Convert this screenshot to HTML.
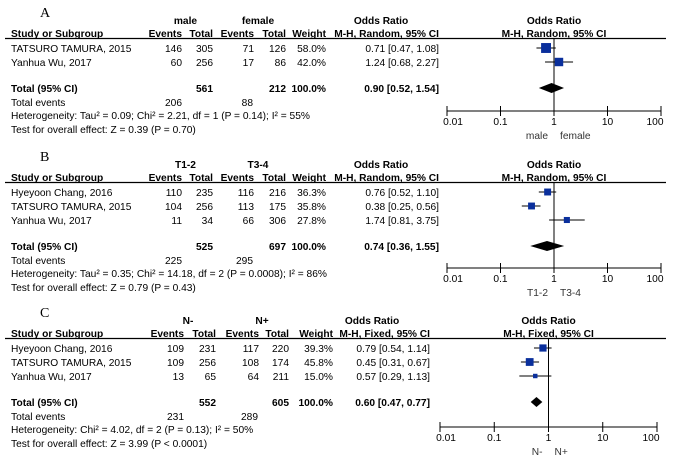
<!DOCTYPE html>
<html><head><meta charset="utf-8">
<style>
html,body{margin:0;padding:0;background:#fff;}
svg{display:block;font-family:"Liberation Sans",Arial,sans-serif;font-size:10.2px;}
.b{font-weight:bold;}
.ser{font-family:"Liberation Serif",serif;font-size:14px;}
</style></head>
<body>
<svg id="chart" width="679" height="455" viewBox="0 0 679 455"></svg>
<script>
// Panel A data
const studiesA = ["TATSURO TAMURA, 2015","Yanhua Wu, 2017"];
const ev1A = [146,60], tot1A = [305,256], ev2A = [71,17], tot2A = [126,86];
const weightA = [58.0,42.0];
const orA = [0.71,1.24], loA = [0.47,0.68], hiA = [1.08,2.27];
const totalA = [0.90,0.52,1.54];
// Panel B data
const studiesB = ["Hyeyoon Chang, 2016","TATSURO TAMURA, 2015","Yanhua Wu, 2017"];
const ev1B = [110,104,11], tot1B = [235,256,34], ev2B = [116,113,66], tot2B = [216,175,306];
const weightB = [36.3,35.8,27.8];
const orB = [0.76,0.38,1.74], loB = [0.52,0.25,0.81], hiB = [1.10,0.56,3.75];
const totalB = [0.74,0.36,1.55];
// Panel C data
const studiesC = ["Hyeyoon Chang, 2016","TATSURO TAMURA, 2015","Yanhua Wu, 2017"];
const ev1C = [109,109,13], tot1C = [231,256,65], ev2C = [117,108,64], tot2C = [220,174,211];
const weightC = [39.3,45.8,15.0];
const orC = [0.79,0.45,0.57], loC = [0.54,0.31,0.29], hiC = [1.14,0.67,1.13];
const totalC = [0.60,0.47,0.77];
const tickVals = [0.01,0.1,1,10,100];
const tickLabels = ["0.01","0.1","1","10","100"];

const NS="http://www.w3.org/2000/svg";
const svg=document.getElementById('chart');
function el(tag,attrs,parent){const e=document.createElementNS(NS,tag);for(const k in attrs)e.setAttribute(k,attrs[k]);(parent||svg).appendChild(e);return e;}
function txt(s,x,y,anchor,cls,name,parent){const t=el('text',{x:x,y:y,'text-anchor':anchor||'start',fill:'#000'},parent);if(cls)t.setAttribute('class',cls);t.textContent=s;


return t;}

function panel(cfg){
  const g=el('g',{});
  
  
  const c=cfg.cols, T=cfg.top, L=11;
  const xs=v=>cfg.x1+(Math.log10(v)-Math.log10(0.01))/4*(cfg.x100-cfg.x1);
  txt(cfg.letter,40,T-20,'start','ser','panel-letter',g);
  txt(cfg.g1,(c[0]+c[1])/2-12,T-13,'middle','b','group1-header',g);
  txt(cfg.g2,(c[2]+c[3])/2-12,T-13,'middle','b','group2-header',g);
  txt('Odds Ratio',cfg.orRight-58,T-13,'middle','b','or-header',g);
  txt('Odds Ratio',cfg.x1+(cfg.x100-cfg.x1)/2,T-13,'middle','b','plot-header',g);
  txt('Study or Subgroup',L,T,'start','b','study-header',g);
  txt('Events',c[0],T,'end','b','events1-header',g);
  txt('Total',c[1],T,'end','b','total1-header',g);
  txt('Events',c[2],T,'end','b','events2-header',g);
  txt('Total',c[3],T,'end','b','total2-header',g);
  txt('Weight',c[4],T,'end','b','weight-header',g);
  txt(cfg.method,cfg.orRight,T,'end','b','or-method-header',g);
  txt(cfg.method,cfg.x1+(cfg.x100-cfg.x1)/2,T,'middle','b','plot-method-header',g);
  el('line',{x1:5,x2:666,y1:T+1.5,y2:T+1.5,stroke:'#000','stroke-width':1.2},g);
  const ax=cfg.axisY;
  el('line',{x1:xs(1),x2:xs(1),y1:T+1,y2:ax,stroke:'#000','stroke-width':1},g);
  cfg.studies.forEach((s,i)=>{
    const y=T+15+i*14;
    txt(s,L,y,'start','','study-name',g);
    txt(String(cfg.ev1[i]),c[0],y,'end','','events1',g);
    txt(String(cfg.tot1[i]),c[1],y,'end','','total1',g);
    txt(String(cfg.ev2[i]),c[2],y,'end','','events2',g);
    txt(String(cfg.tot2[i]),c[3],y,'end','','total2',g);
    txt(cfg.w[i].toFixed(1)+'%',c[4],y,'end','','weight',g);
    txt(cfg.or[i].toFixed(2)+' ['+cfg.lo[i].toFixed(2)+', '+cfg.hi[i].toFixed(2)+']',cfg.orRight,y,'end','','or-ci',g);
    const cy=y-4;
    const ln=el('line',{x1:xs(cfg.lo[i]),x2:xs(cfg.hi[i]),y1:cy,y2:cy,stroke:'#000','stroke-width':1},g);
    
    
    const sz=Math.max(3,Math.sqrt(cfg.w[i])*cfg.sq);
    const r=el('rect',{x:xs(cfg.or[i])-sz/2,y:cy-sz/2,width:sz,height:sz,fill:'#0a2f9c'},g);
    
    
  });
  const ty=T+15+cfg.studies.length*14+12;
  txt('Total (95% CI)',L,ty,'start','b','total-label',g);
  txt(String(cfg.tot1.reduce((a,b)=>a+b,0)),c[1],ty,'end','b','total1-sum',g);
  txt(String(cfg.tot2.reduce((a,b)=>a+b,0)),c[3],ty,'end','b','total2-sum',g);
  txt('100.0%',c[4],ty,'end','b','weight-sum',g);
  txt(cfg.total[0].toFixed(2)+' ['+cfg.total[1].toFixed(2)+', '+cfg.total[2].toFixed(2)+']',cfg.orRight,ty,'end','b','total-or',g);
  const dy=ty-4;
  const d=el('polygon',{points:`${xs(cfg.total[1])},${dy} ${xs(cfg.total[0])},${dy-5} ${xs(cfg.total[2])},${dy} ${xs(cfg.total[0])},${dy+5}`,fill:'#000'},g);
  
  
  txt('Total events',L,ty+14,'start','','total-events-label',g);
  txt(String(cfg.ev1.reduce((a,b)=>a+b,0)),c[0],ty+14,'end','','total-events1',g);
  txt(String(cfg.ev2.reduce((a,b)=>a+b,0)),c[2]-1,ty+14,'end','','total-events2',g);
  txt(cfg.het,L,ty+27,'start','','heterogeneity',g);
  txt(cfg.test,L,ty+41,'start','','overall-effect-test',g);
  el('line',{x1:cfg.x1,x2:cfg.x100,y1:ax,y2:ax,stroke:'#000','stroke-width':1},g);
  tickVals.forEach((v,i)=>{
    const tk=el('line',{x1:xs(v),x2:xs(v),y1:ax-5,y2:ax+5,stroke:'#000','stroke-width':1},g);
    
    
    txt(tickLabels[i],xs(v)+(i==0?6:(i==4?-6:0)),ax+14,'middle','','tick-label',g);
  });
  txt(cfg.fav1,xs(1)-6,ax+28,'end','','favours-left',g).setAttribute('fill','#333');
  txt(cfg.fav2,xs(1)+6,ax+28,'start','','favours-right',g).setAttribute('fill','#333');
}

panel({letter:'A',top:37,g1:'male',g2:'female',method:'M-H, Random, 95% CI',cols:[182,213,254,286,326],orRight:439,
  x1:447,x100:661,axisY:111,sq:1.3,studies:studiesA,ev1:ev1A,tot1:tot1A,ev2:ev2A,tot2:tot2A,w:weightA,or:orA,lo:loA,hi:hiA,total:totalA,
  het:'Heterogeneity: Tau\u00b2 = 0.09; Chi\u00b2 = 2.21, df = 1 (P = 0.14); I\u00b2 = 55%',test:'Test for overall effect: Z = 0.39 (P = 0.70)',fav1:'male',fav2:'female'});
panel({letter:'B',top:181,g1:'T1-2',g2:'T3-4',method:'M-H, Random, 95% CI',cols:[182,213,254,286,326],orRight:439,
  x1:447,x100:661,axisY:268,sq:1.15,studies:studiesB,ev1:ev1B,tot1:tot1B,ev2:ev2B,tot2:tot2B,w:weightB,or:orB,lo:loB,hi:hiB,total:totalB,
  het:'Heterogeneity: Tau\u00b2 = 0.35; Chi\u00b2 = 14.18, df = 2 (P = 0.0008); I\u00b2 = 86%',test:'Test for overall effect: Z = 0.79 (P = 0.43)',fav1:'T1-2',fav2:'T3-4'});
panel({letter:'C',top:337,g1:'N-',g2:'N+',method:'M-H, Fixed, 95% CI',cols:[184,216,259,289,333],orRight:430,
  x1:440,x100:657,axisY:427,sq:1.15,studies:studiesC,ev1:ev1C,tot1:tot1C,ev2:ev2C,tot2:tot2C,w:weightC,or:orC,lo:loC,hi:hiC,total:totalC,
  het:'Heterogeneity: Chi\u00b2 = 4.02, df = 2 (P = 0.13); I\u00b2 = 50%',test:'Test for overall effect: Z = 3.99 (P < 0.0001)',fav1:'N-',fav2:'N+'});
</script>
</body></html>
